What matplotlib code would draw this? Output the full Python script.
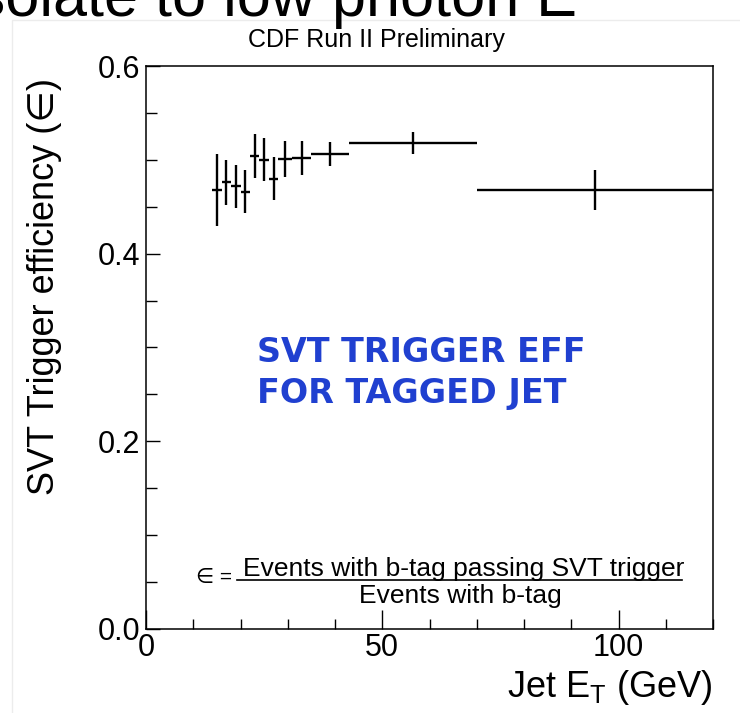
import numpy as np
import matplotlib.pyplot as plt
from matplotlib.ticker import MultipleLocator
from matplotlib.lines import Line2D
from matplotlib.patches import Rectangle

# Bordes de los bins en Jet E_T (GeV)
bin_edges = [14, 16, 18, 20, 22, 24, 26, 28, 31, 35, 43, 70, 120]
# Eficiencia del trigger SVT y su error
eff = [0.468, 0.476, 0.472, 0.466, 0.504, 0.500, 0.480, 0.501, 0.502, 0.506, 0.518, 0.468]
eff_err = [0.038, 0.024, 0.023, 0.023, 0.023, 0.023, 0.023, 0.019, 0.018, 0.013, 0.012, 0.021]

x_ticks = [0, 50, 100]
y_ticks = [0.0, 0.2, 0.4, 0.6]
y_tick_labels = ['0.0', '0.2', '0.4', '0.6']

plt.rcParams['font.family'] = ['Liberation Sans', 'DejaVu Sans']

edges = np.array(bin_edges, dtype=float)
centers = (edges[:-1] + edges[1:]) / 2
half_w = np.diff(edges) / 2

fig = plt.figure(figsize=(7.4, 7.13), dpi=100)
ax = fig.add_axes([146 / 740, 1 - 629 / 713, 567 / 740, 563 / 713])

# marco claro del fondo de la diapositiva
fig.patches.append(Rectangle((12 / 740, -0.1), 1.1, 1 - 20 / 713 + 0.1, transform=fig.transFigure,
                             fill=False, edgecolor='#ececec', linewidth=1))

# texto cortado de la diapositiva (solo se ve la parte de abajo)
fig.text(577 / 740, 1 - 16 / 713, 'isolate to low photon E', ha='right', va='baseline',
         fontsize=44, color='black')

ax.errorbar(centers, eff, xerr=half_w, yerr=eff_err, fmt='none', ecolor='black',
            elinewidth=1.7, capsize=0)

ax.set_xlim(0, 120)
ax.set_ylim(0, 0.6)
ax.set_xticks(x_ticks)
ax.set_yticks(y_ticks)
ax.set_yticklabels(y_tick_labels)
ax.xaxis.set_minor_locator(MultipleLocator(10))
ax.yaxis.set_minor_locator(MultipleLocator(0.05))
ax.tick_params(axis='x', which='major', direction='in', length=14, width=1, labelsize=22, pad=3)
ax.tick_params(axis='x', which='minor', direction='in', length=7, width=1)
ax.tick_params(axis='y', which='major', direction='in', length=10, width=1, labelsize=22, pad=4)
ax.tick_params(axis='y', which='minor', direction='in', length=8, width=1)
for s in ax.spines.values():
    s.set_linewidth(1.1)

fig.text(376 / 740, 1 - 47 / 713, 'CDF Run II Preliminary', ha='center', va='baseline', fontsize=18)
fig.text(45 / 740, 1 - 78 / 713, 'SVT Trigger efficiency (\u2208)', rotation=90,
         ha='center', va='top', fontsize=26)
fig.text(712 / 740, 1 - 697 / 713, 'Jet E$_\\mathregular{T}$ (GeV)', ha='right', va='baseline',
         fontsize=26)

ax.text(0.196, 0.454, 'SVT TRIGGER EFF\nFOR TAGGED JET', transform=ax.transAxes,
        ha='left', va='center', fontsize=24, fontweight='bold', color='#2040d0',
        family='DejaVu Sans', linespacing=1.3)

# formula de la eficiencia
ax.text(0.561, 0.094, 'Events with b-tag passing SVT trigger', transform=ax.transAxes,
        ha='center', va='baseline', fontsize=19)
ax.text(0.554, 0.046, 'Events with b-tag', transform=ax.transAxes,
        ha='center', va='baseline', fontsize=19)
ax.add_line(Line2D([0.160, 0.945], [0.087, 0.087], transform=ax.transAxes,
                   color='black', linewidth=1.2))
ax.text(0.088, 0.082, '\u2208 =', transform=ax.transAxes, ha='left', va='baseline',
        fontsize=15)

plt.savefig('out.png', dpi=100)
plt.close()
